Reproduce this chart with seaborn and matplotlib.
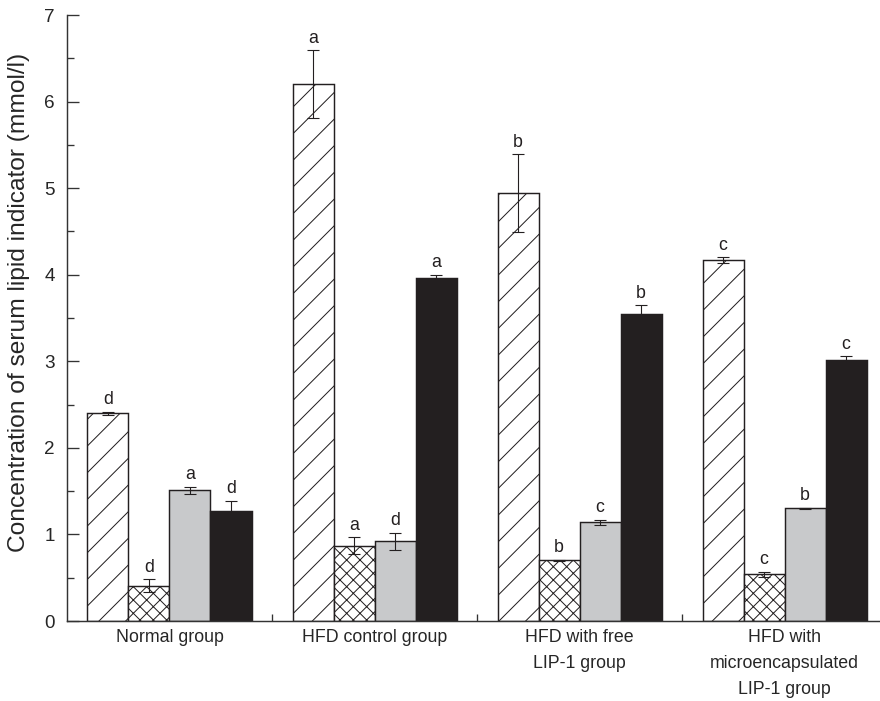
import matplotlib
matplotlib.use("Agg")
import matplotlib.pyplot as plt
from matplotlib import font_manager
import pandas as pd
import seaborn as sns

groups = ["Normal group", "HFD control group",
          "HFD with free\nLIP-1 group",
          "HFD with\nmicroencapsulated\nLIP-1 group"]
indicators = ["A", "B", "C", "D"]

# one list per indicator, in group order
vals_a = [2.40, 6.20, 4.94, 4.17]
vals_b = [0.41, 0.87, 0.70, 0.54]
vals_c = [1.51, 0.92, 1.14, 1.30]
vals_d = [1.27, 3.96, 3.55, 3.01]

err_a = [0.02, 0.39, 0.45, 0.03]
err_b = [0.07, 0.10, 0.01, 0.03]
err_c = [0.04, 0.10, 0.03, 0.01]
err_d = [0.12, 0.04, 0.10, 0.05]

let_a = ["d", "a", "b", "c"]
let_b = ["d", "a", "b", "c"]
let_c = ["a", "d", "c", "b"]
let_d = ["d", "a", "b", "c"]

ink = "#231f20"
colors = ["white", "white", "#c8c9cb", ink]
hatches = ["/", "xx", "", ""]

rows = []
for ind, vals in zip(indicators, [vals_a, vals_b, vals_c, vals_d]):
    for g, v in zip(groups, vals):
        rows.append({"group": g, "indicator": ind, "value": v})
data = pd.DataFrame(rows)

sns.set_style("ticks")
installed = {f.name for f in font_manager.fontManager.ttflist}
if "Liberation Sans Narrow" in installed:
    plt.rcParams["font.family"] = ["Liberation Sans Narrow", "DejaVu Sans"]
    fs, fs_y = 19.5, 26.5
else:
    plt.rcParams["font.family"] = ["Liberation Sans", "DejaVu Sans"]
    fs, fs_y = 16, 22
plt.rcParams["hatch.color"] = ink
plt.rcParams["hatch.linewidth"] = 0.9

fig = plt.figure(figsize=(11, 8.7625), dpi=80)
ax = fig.add_axes([0.0761, 0.1141, 0.932, 0.8645])

sns.barplot(data=data, x="group", y="value", hue="indicator",
            order=groups, hue_order=indicators, palette=colors,
            saturation=1, width=0.8, edgecolor=ink, linewidth=1.3,
            legend=False, ax=ax)

errs = [err_a, err_b, err_c, err_d]
lets = [let_a, let_b, let_c, let_d]
for cont, hatch, err, let in zip(ax.containers, hatches, errs, lets):
    xs, ys = [], []
    for bar in cont:
        bar.set_hatch(hatch)
        xs.append(bar.get_x() + bar.get_width() / 2)
        ys.append(bar.get_height())
    ax.errorbar(xs, ys, yerr=err, fmt="none", ecolor=ink, elinewidth=1.0,
                capsize=5.5, capthick=1.0, zorder=3)
    for x, y, e, t in zip(xs, ys, err, let):
        ax.annotate(t, (x, y + e), xytext=(0, 3), textcoords="offset points",
                    ha="center", va="bottom", fontsize=fs, color=ink)

ax.set_xlim(-0.5, 3.5)
ax.set_ylim(0, 7)
ax.set_yticks(range(0, 8))
ax.set_yticks([i + 0.5 for i in range(7)], minor=True)
ax.set_xticks([0.5, 1.5, 2.5])
ax.set_xticklabels([])
ax.set_xticks(range(4), minor=True)
ax.set_xticklabels(groups, minor=True, fontsize=fs, linespacing=1.7)
ax.tick_params(axis="y", which="major", direction="in", length=10.5,
               width=1.2, color="#333333", labelsize=fs + 1, pad=11)
ax.tick_params(axis="y", which="minor", direction="in", length=6,
               width=1.2, color="#333333")
ax.tick_params(axis="x", which="major", direction="in", length=6,
               width=1.2, color="#333333")
ax.tick_params(axis="x", which="minor", length=0, pad=7)

ax.set_xlabel("")
ax.set_ylabel("Concentration of serum lipid indicator (mmol/l)",
              fontsize=fs_y, va="center")
ax.yaxis.set_label_coords(-0.058, 0.525)
sns.despine(ax=ax)
for s in ["left", "bottom"]:
    ax.spines[s].set_linewidth(1.3)
    ax.spines[s].set_color("#333333")

fig.savefig("out.png", dpi=80)
